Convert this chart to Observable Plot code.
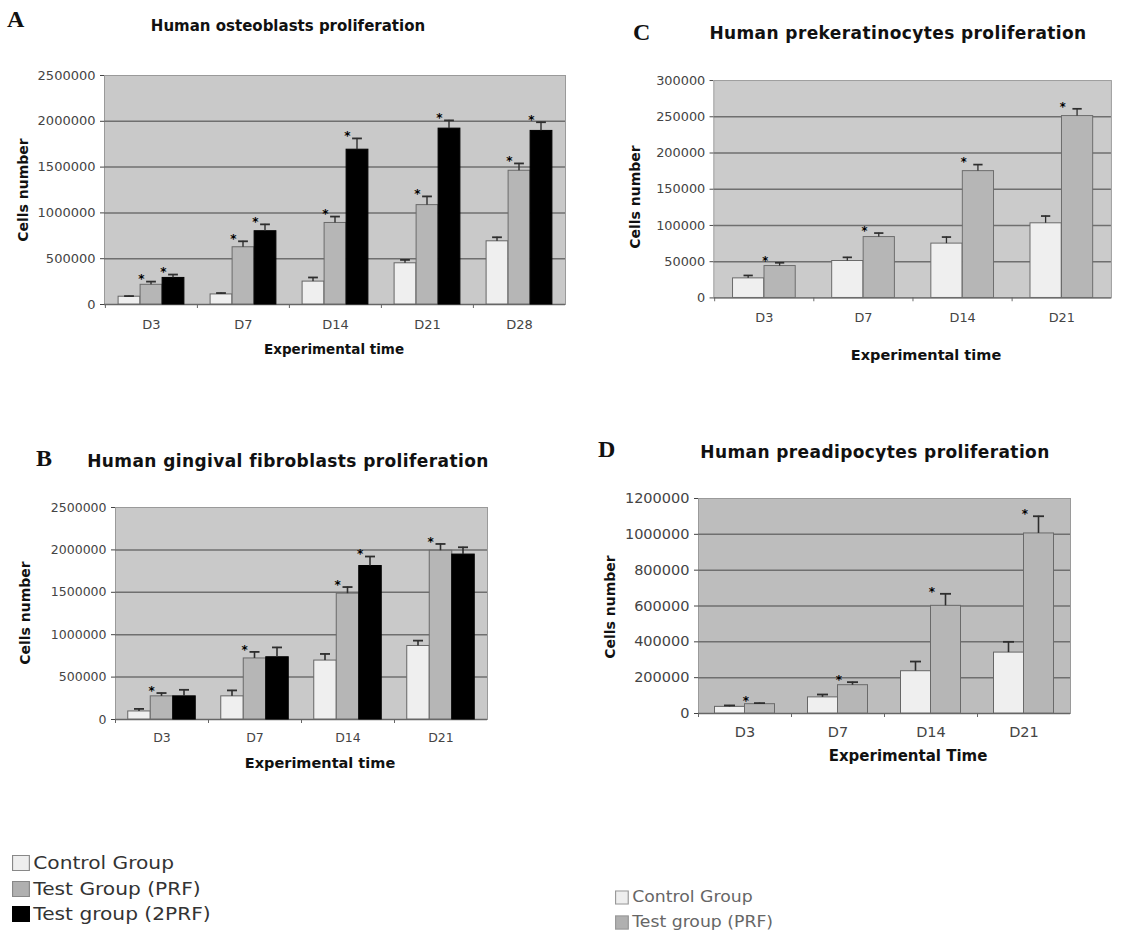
<!DOCTYPE html>
<html><head><meta charset="utf-8">
<script src="https://cdn.jsdelivr.net/npm/d3@7"></script>
<script src="https://cdn.jsdelivr.net/npm/@observablehq/plot@0.6"></script>
<style>
body{margin:0;background:#fff;}
#page{position:relative;width:1130px;height:938px;overflow:hidden;font-family:"DejaVu Sans",Verdana,sans-serif;color:#222;}
.abs{position:absolute;white-space:nowrap;line-height:1;}
.letter{font-family:"Liberation Serif","DejaVu Serif",serif;font-weight:bold;font-size:24px;color:#111;}
.title{font-weight:bold;font-size:17px;transform:translate(-50%,-50%);color:#111;letter-spacing:0.4px;}
.ylab{font-weight:bold;font-size:14px;transform:translate(-50%,-50%) rotate(-90deg);color:#111;}
.xlab{font-weight:bold;font-size:14.5px;transform:translate(-50%,-50%);color:#111;}
.panel{position:absolute;}
.leg{display:flex;align-items:center;transform-origin:left center;}
.sw{display:inline-block;box-sizing:border-box;margin-right:3px;}
</style></head>
<body><div id="page"></div>
<script>
// ---------- DATA ----------
// Panel A: Human osteoblasts proliferation
const catsA = ["D3", "D7", "D14", "D21", "D28"];
const ctrlA = [85000, 110000, 250000, 450000, 690000];
const ctrlErrA = [7000, 15000, 45000, 37000, 44000];
const prfA = [215000, 625000, 890000, 1085000, 1460000];
const prfErrA = [35000, 65000, 70000, 95000, 80000];
const prf2A = [290000, 800000, 1690000, 1920000, 1895000];
const prf2ErrA = [37000, 75000, 123000, 90000, 95000];
const prfStarA = [true, true, true, true, true];
const prf2StarA = [true, true, true, true, true];
const yTicksA = [0, 500000, 1000000, 1500000, 2000000, 2500000];

// Panel B: Human gingival fibroblasts proliferation
const catsB = ["D3", "D7", "D14", "D21"];
const ctrlB = [95000, 273000, 695000, 867000];
const ctrlErrB = [30000, 70000, 78000, 63000];
const prfB = [273000, 720000, 1484000, 1990000];
const prfErrB = [39000, 77000, 78000, 80000];
const prf2B = [273000, 734000, 1810000, 1945000];
const prf2ErrB = [77000, 116000, 112000, 86000];
const prfStarB = [true, true, true, true];
const prf2StarB = [false, false, true, false];
const yTicksB = [0, 500000, 1000000, 1500000, 2000000, 2500000];

// Panel C: Human prekeratinocytes proliferation
const catsC = ["D3", "D7", "D14", "D21"];
const ctrlC = [27000, 51000, 75000, 103000];
const ctrlErrC = [4000, 5000, 9000, 10000];
const prfC = [44000, 84000, 175000, 251000];
const prfErrC = [4500, 5500, 9000, 10000];
const prfStarC = [true, true, true, true];
const yTicksC = [0, 50000, 100000, 150000, 200000, 250000, 300000];

// Panel D: Human preadipocytes proliferation
const catsD = ["D3", "D7", "D14", "D21"];
const ctrlD = [37000, 90000, 236000, 340000];
const ctrlErrD = [8000, 16000, 54000, 60000];
const prfD = [52000, 158000, 601000, 1005000];
const prfErrD = [6000, 17000, 67000, 96000];
const prfStarD = [true, true, true, true];
const yTicksD = [0, 200000, 400000, 600000, 800000, 1000000, 1200000];

const noStars = n => Array(n).fill(false);

// ---------- DRAWING ----------
const page = document.getElementById("page");

function addText(cls, txt, x, y, extra) {
  const d = document.createElement("div");
  d.className = "abs " + cls;
  d.textContent = txt;
  d.style.left = x + "px";
  d.style.top = y + "px";
  if (extra) Object.assign(d.style, extra);
  page.appendChild(d);
}

function panel(cfg) {
  const {cats, series, yTicks, L, R, T, B, barW, capW, bg, xTickPad, fontSize} = cfg;
  const mL = 100, mT = 20, mR = 20, mB = 40;
  const width = (R - L) + mL + mR;
  const height = (B - T) + mT + mB;
  const n = cats.length, k = series.length;
  const bw = (R - L) / n;
  const groupW = k * barW;
  const yMax = yTicks[yTicks.length - 1];
  const marks = [
    Plot.frame({fill: bg, stroke: "#9a9a9a", strokeWidth: 1}),
    Plot.ruleY(yTicks.filter(t => t > 0 && t < yMax), {stroke: "#6f6f6f", strokeWidth: 1.5}),
    Plot.ruleY([0], {stroke: "#666", strokeWidth: 1.3}),
    Plot.ruleX(cats, {x: d => d, y1: 0, y2: 0, insetBottom: -4, dx: -bw / 2, stroke: "#666"})
  ];
  series.forEach((s, i) => {
    const rows = cats.map((c, j) => ({cat: c, v: s.values[j], e: s.errs[j], star: s.stars[j]}));
    const left = (bw - groupW) / 2 + i * barW;
    const right = bw - left - barW;
    const center = left + barW / 2 - bw / 2;
    marks.push(Plot.barY(rows, {x: "cat", y1: 0, y2: "v", fill: s.fill, stroke: s.stroke, strokeWidth: 1, insetLeft: left, insetRight: right}));
    marks.push(Plot.barY(rows, {x: "cat", y1: "v", y2: d => d.v + d.e, fill: "#2e2e2e", insetLeft: left + barW / 2 - 0.8, insetRight: right + barW / 2 - 0.8}));
    marks.push(Plot.tickY(rows, {x: "cat", y: d => d.v + d.e, stroke: "#2e2e2e", strokeWidth: 1.8, insetLeft: left + barW / 2 - capW / 2, insetRight: right + barW / 2 - capW / 2}));
    marks.push(Plot.text(rows.filter(d => d.star), {x: "cat", y: d => d.v + d.e, text: () => "*", dx: center - barW / 2 + 1, dy: -2, lineAnchor: "middle", fontWeight: "bold", fontSize: 12, fill: "#000"}));
  });
  const chart = Plot.plot({
    width, height,
    marginLeft: mL, marginTop: mT, marginRight: mR, marginBottom: mB,
    style: {fontFamily: "DejaVu Sans, Verdana, sans-serif", fontSize: fontSize + "px", color: "#444", background: "none", overflow: "visible"},
    x: {domain: cats, padding: 0, tickSize: 0, tickPadding: xTickPad, label: null},
    y: {domain: [0, yMax], ticks: yTicks, tickFormat: d3.format("d"), tickSize: 4, tickPadding: 5, label: null},
    marks
  });
  const holder = document.createElement("div");
  holder.className = "panel";
  holder.style.left = (L - mL) + "px";
  holder.style.top = (T - mT) + "px";
  holder.appendChild(chart);
  page.appendChild(holder);
}

const CTRL = {fill: "#efefef", stroke: "#666"};
const PRF = {fill: "#b6b6b6", stroke: "#6a6a6a"};
const PRF2 = {fill: "#000000", stroke: "#000"};

// Panel A
panel({
  cats: catsA, yTicks: yTicksA, L: 104, R: 565, T: 75, B: 304, barW: 22, capW: 10, bg: "#c9c9c9", xTickPad: 15, fontSize: 13,
  series: [
    {values: ctrlA, errs: ctrlErrA, stars: noStars(5), ...CTRL},
    {values: prfA, errs: prfErrA, stars: prfStarA, ...PRF},
    {values: prf2A, errs: prf2ErrA, stars: prf2StarA, ...PRF2}
  ]
});
// Panel B
panel({
  cats: catsB, yTicks: yTicksB, L: 115, R: 487, T: 507, B: 719, barW: 22.5, capW: 10, bg: "#c9c9c9", xTickPad: 14, fontSize: 12.5,
  series: [
    {values: ctrlB, errs: ctrlErrB, stars: noStars(4), ...CTRL},
    {values: prfB, errs: prfErrB, stars: prfStarB, ...PRF},
    {values: prf2B, errs: prf2ErrB, stars: prf2StarB, ...PRF2}
  ]
});
// Panel C
panel({
  cats: catsC, yTicks: yTicksC, L: 718, R: 1135, T: 81, B: 309, barW: 33, capW: 10, bg: "#cbcbcb", xTickPad: 16, fontSize: 13.5,
  series: [
    {values: ctrlC, errs: ctrlErrC, stars: noStars(4), ...CTRL},
    {values: prfC, errs: prfErrC, stars: prfStarC, ...PRF}
  ]
});
// Panel D
panel({
  cats: catsD, yTicks: yTicksD, L: 698, R: 1070, T: 498, B: 713, barW: 30, capW: 11, bg: "#bdbdbd", xTickPad: 13, fontSize: 14.5,
  series: [
    {values: ctrlD, errs: ctrlErrD, stars: noStars(4), ...CTRL},
    {values: prfD, errs: prfErrD, stars: prfStarD, ...PRF}
  ]
});

// Letters, titles, axis titles
addText("letter", "A", 7, 7);
addText("title", "Human osteoblasts proliferation", 288, 26, {fontSize: "15px", letterSpacing: "0px"});
addText("letter", "C", 633, 20);
addText("title", "Human prekeratinocytes proliferation", 898, 33);
addText("letter", "B", 36, 446);
addText("title", "Human gingival fibroblasts proliferation", 288, 461);
addText("letter", "D", 598, 437);
addText("title", "Human preadipocytes proliferation", 875, 452);

addText("ylab", "Cells number", 23, 190);
addText("ylab", "Cells number", 25, 613);
addText("ylab", "Cells number", 635, 197);
addText("ylab", "Cells number", 610, 607);

addText("xlab", "Experimental time", 334, 350, {fontSize: "13.5px"});
addText("xlab", "Experimental time", 320, 763);
addText("xlab", "Experimental time", 926, 355);
addText("xlab", "Experimental Time", 908, 756, {fontSize: "15px"});

// Legends
const legLeft = [
  {label: "Control Group", fill: "#eeeeee", stroke: "#888"},
  {label: "Test Group (PRF)", fill: "#b0b0b0", stroke: "#888"},
  {label: "Test group (2PRF)", fill: "#000", stroke: "#000"}
];
const legRight = [
  {label: "Control Group", fill: "#eeeeee", stroke: "#999"},
  {label: "Test group (PRF)", fill: "#b0b0b0", stroke: "#999"}
];
function legend(items, x, y0, dy, size, swW, swH, color, stretch) {
  items.forEach((it, i) => {
    const d = document.createElement("div");
    d.className = "abs leg";
    d.style.left = x + "px";
    d.style.top = (y0 + i * dy) + "px";
    d.style.transform = "translateY(-50%) scaleX(" + stretch + ")";
    d.style.fontSize = size + "px";
    d.style.color = color;
    const sw = document.createElement("span");
    sw.className = "sw";
    sw.style.width = swW + "px";
    sw.style.height = swH + "px";
    sw.style.background = it.fill;
    sw.style.border = "1px solid " + it.stroke;
    d.appendChild(sw);
    const t = document.createElement("span");
    t.textContent = it.label;
    d.appendChild(t);
    page.appendChild(d);
  });
}
legend(legLeft, 12, 863, 25.5, 18, 16, 16, "#333", 1.12);
legend(legRight, 615, 897, 25, 15, 12, 14, "#666", 1.15);
</script>
</body></html>
